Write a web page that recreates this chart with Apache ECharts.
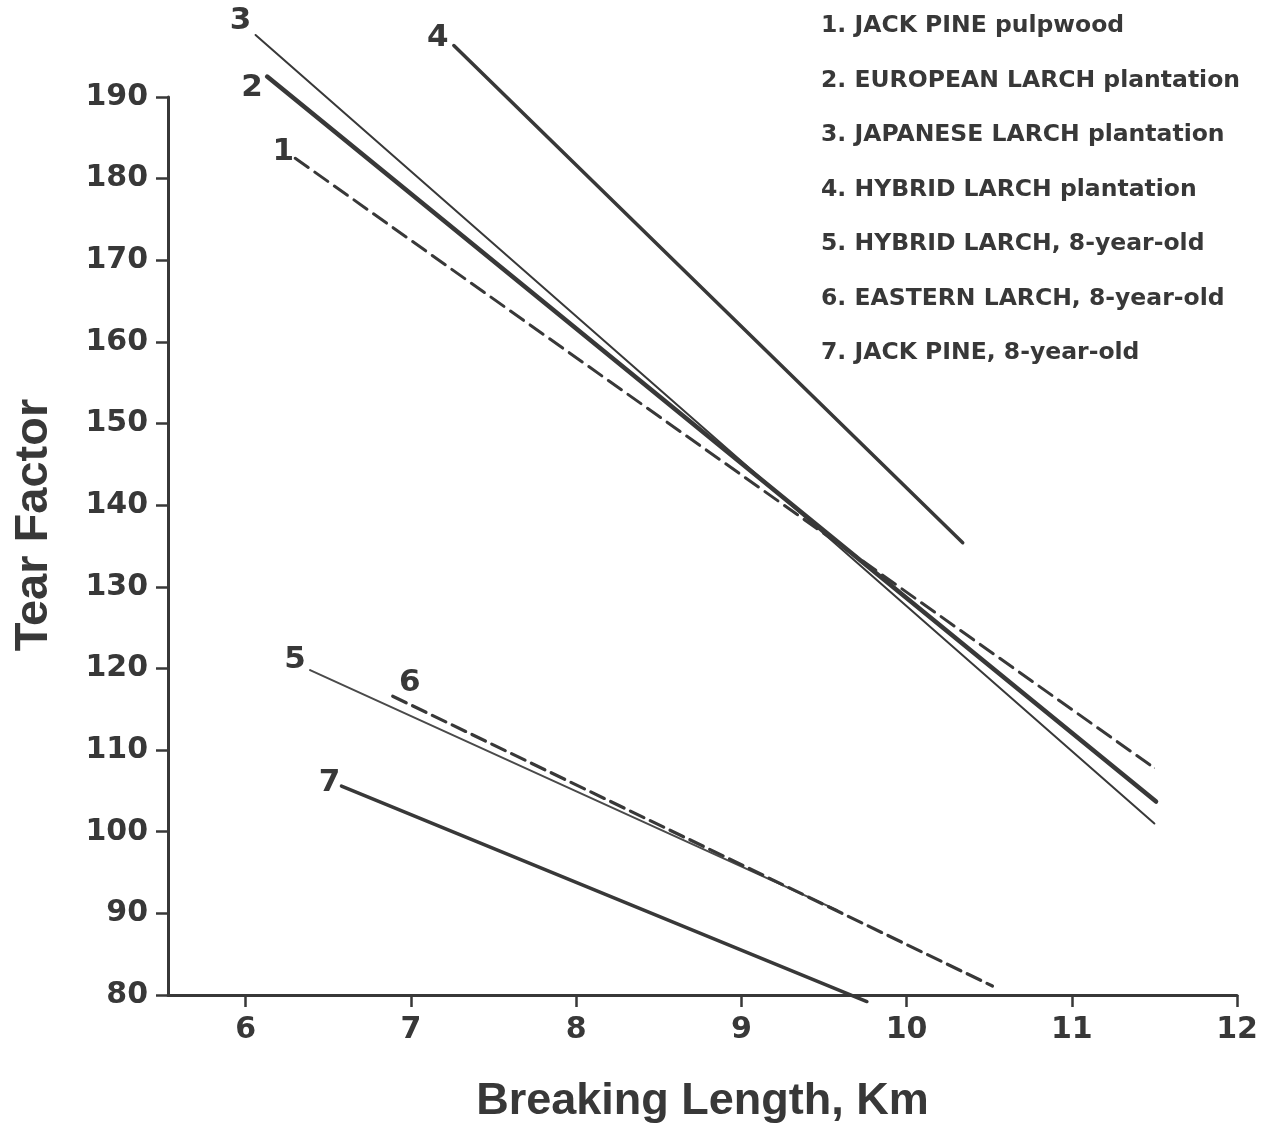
<!DOCTYPE html>
<html>
<head>
<meta charset="utf-8">
<script src="https://cdn.jsdelivr.net/npm/echarts@6/dist/echarts.min.js"></script>
<style>
html,body{margin:0;padding:0;background:#fff;}
#main{width:1272px;height:1125px;}
</style>
</head>
<body>
<div id="main"></div>
<script>
// series names (legend) and the number written at the start of each line
const seriesNames = [
    '1. JACK PINE pulpwood',
    '2. EUROPEAN LARCH plantation',
    '3. JAPANESE LARCH plantation',
    '4. HYBRID LARCH plantation',
    '5. HYBRID LARCH, 8-year-old',
    '6. EASTERN LARCH, 8-year-old',
    '7. JACK PINE, 8-year-old'
];
const lineNumbers = ['1', '2', '3', '4', '5', '6', '7'];

// [breaking length km, tear factor] start and end of each regression line
const line1 = [[6.30, 182.5], [11.50, 107.8]];
const line2 = [[6.13, 192.5], [11.51, 103.7]];
const line3 = [[6.06, 197.6], [11.50, 101.0]];
const line4 = [[7.26, 196.3], [10.34, 135.4]];
const line5 = [[6.39, 119.8], [9.58, 90.4]];
const line6 = [[6.89, 116.6], [10.52, 81.1]];
const line7 = [[6.58, 105.6], [9.76, 79.2]];

const xTicks = [6, 7, 8, 9, 10, 11, 12];

const ink = '#383838';
const font = '"Liberation Sans", Arial, Helvetica, sans-serif';
const wideFont = '"DejaVu Sans", Verdana, sans-serif';

// line styles: width, dashed or not, colour
const styles = [
    {width: 3, type: [16, 8], color: ink},
    {width: 4.5, type: 'solid', color: ink},
    {width: 2, type: 'solid', color: ink},
    {width: 3.5, type: 'solid', color: ink},
    {width: 2, type: 'solid', color: '#4a4a4a'},
    {width: 3.2, type: [15, 7], color: ink},
    {width: 3.5, type: 'solid', color: ink}
];
// where the number sits relative to the line start
const numberOffsets = [[-12, -6], [-15, 11], [-15, -14], [-16, -8], [-15, -10], [17, -13], [-12, -3]];

const lines = [line1, line2, line3, line4, line5, line6, line7];

const myChart = echarts.init(document.getElementById('main'));

const series = lines.map(function (pts, i) {
    return {
        name: seriesNames[i],
        type: 'line',
        clip: false,
        showSymbol: true,
        symbol: 'circle',
        symbolSize: 1,
        itemStyle: {color: styles[i].color},
        lineStyle: {width: styles[i].width, type: styles[i].type, color: styles[i].color, cap: 'round'},
        label: {show: false},
        emphasis: {disabled: true},
        data: pts.map(function (p, j) {
            const item = {value: p};
            if (j === 0) {
                item.label = {
                    show: true,
                    position: 'inside',
                    offset: numberOffsets[i],
                    formatter: lineNumbers[i],
                    color: ink,
                    textBorderWidth: 0,
                    fontFamily: wideFont,
                    fontWeight: 'bold',
                    fontSize: 31
                };
            }
            return item;
        })
    };
});

const option = {
    animation: false,
    backgroundColor: '#fff',
    grid: {left: 168, right: 35, top: 97, bottom: 130, containLabel: false, outerBoundsMode: 'none'},
    legend: {
        data: seriesNames,
        orient: 'vertical',
        left: 811,
        top: 6,
        selectedMode: false,
        icon: 'rect',
        itemWidth: 0,
        itemHeight: 0,
        itemGap: 24.5,
        itemStyle: {opacity: 0},
        lineStyle: {opacity: 0},
        textStyle: {color: ink, fontFamily: wideFont, fontWeight: 'bold', fontSize: 23.5, lineHeight: 30}
    },
    xAxis: {
        type: 'value',
        min: 5.53,
        max: 12,
        name: 'Breaking Length, Km',
        nameLocation: 'middle',
        nameGap: 84,
        nameTextStyle: {color: ink, fontFamily: font, fontWeight: 'bold', fontSize: 45},
        axisLine: {show: true, lineStyle: {color: ink, width: 3}},
        axisTick: {show: true, inside: false, length: 12, customValues: xTicks, lineStyle: {color: ink, width: 2.5}},
        axisLabel: {customValues: xTicks, margin: 20, color: ink, fontFamily: wideFont, fontWeight: 'bold', fontSize: 30},
        splitLine: {show: false}
    },
    yAxis: {
        type: 'value',
        min: 80,
        max: 190,
        interval: 10,
        name: 'Tear Factor',
        nameLocation: 'middle',
        nameGap: 110,
        nameTextStyle: {color: ink, fontFamily: font, fontWeight: 'bold', fontSize: 47, padding: [0, 0, 0, 42]},
        axisLine: {show: true, lineStyle: {color: ink, width: 3}},
        axisTick: {show: true, inside: false, length: 12, lineStyle: {color: ink, width: 2.5}},
        axisLabel: {margin: 20, color: ink, fontFamily: wideFont, fontWeight: 'bold', fontSize: 30},
        splitLine: {show: false}
    },
    series: series
};
myChart.setOption(option);
</script>
</body>
</html>
